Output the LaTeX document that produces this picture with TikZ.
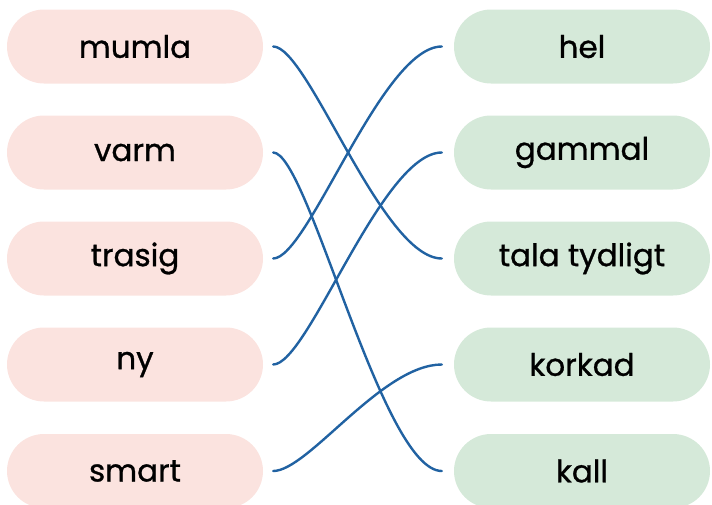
\documentclass[tikz,border=0pt]{standalone}
\usepackage{fontspec}
\setmainfont{Poppins}[FakeBold=0.9]
\definecolor{pinkfill}{HTML}{FBE3DF}
\definecolor{greenfill}{HTML}{D5E9D9}
\definecolor{linkblue}{HTML}{2162A2}
\begin{document}
\begin{tikzpicture}[x=1pt,y=-1pt,
  pill/.style={minimum width=256pt,minimum height=74pt,rounded corners=37pt,inner sep=0pt,font=\fontsize{31}{36}\selectfont,text=black},
  lpill/.style={pill,fill=pinkfill},
  rpill/.style={pill,fill=greenfill},
  link/.style={draw=linkblue,line width=2.4pt,line cap=round}]
\useasboundingbox (0,0) rectangle (712,504);
\node[lpill] (mumla) at (135,46.5) {mumla};
\node[lpill] (varm) at (135,152.5) {varm};
\node[lpill] (trasig) at (135,258.5) {trasig};
\node[lpill] (ny) at (135,364.5) {ny};
\node[lpill] (smart) at (135,471) {smart};
\node[rpill] (hel) at (582,46.5) {hel};
\node[rpill] (gammal) at (582,152.5) {gammal};
\node[rpill] (tala) at (582,258.5) {tala tydligt};
\node[rpill] (korkad) at (582,364.5) {korkad};
\node[rpill] (kall) at (582,471) {kall};
\tikzset{lend/.style={xshift=10pt},rend/.style={xshift=-12pt}}
\draw[link] ([lend]mumla.east) .. controls +(35,0) and +(-60,0) .. ([rend]tala.west);
\draw[link] ([lend]varm.east) .. controls +(35,0) and +(-60,0) .. ([rend]kall.west);
\draw[link] ([lend]trasig.east) .. controls +(35,0) and +(-60,0) .. ([rend]hel.west);
\draw[link] ([lend]ny.east) .. controls +(35,0) and +(-60,0) .. ([rend]gammal.west);
\draw[link] ([lend]smart.east) .. controls +(35,0) and +(-60,0) .. ([rend]korkad.west);
\end{tikzpicture}
\end{document}
